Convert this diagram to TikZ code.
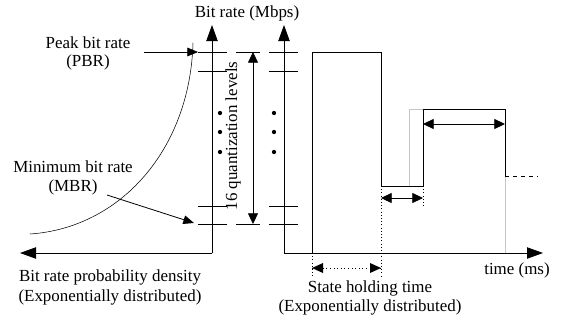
\documentclass[tikz,border=0pt]{standalone}
\usepackage{fontspec}
\setmainfont{Liberation Serif}
\usetikzlibrary{arrows.meta}

\begin{document}
\begin{tikzpicture}[x=0.75pt,y=-0.75pt,font=\fontsize{12.7}{15}\selectfont]
    \tikzstyle{rateaxis}=[line width=0.7pt,-{Triangle[length=12pt,width=8.5pt]}]
    \tikzstyle{pointer}=[line width=0.6pt,-{Triangle[length=8pt,width=6.5pt]}]
    \tikzstyle{holdspan}=[line width=0.6pt,{Triangle[length=8pt,width=7.5pt]}-{Triangle[length=8pt,width=7.5pt]}]
    \tikzstyle{rateline}=[line width=0.7pt]
    \tikzstyle{qdot}=[circle,fill=black,minimum size=3.2pt,inner sep=0]
    \useasboundingbox (0,0) rectangle (565,322);
    \coordinate (lo) at (212,253);
    \coordinate (ltop) at (212,25);
    \coordinate (lend) at (20,253);
    \coordinate (ro) at (284,253);
    \coordinate (rtop) at (284,25);
    \coordinate (rend) at (543,253);
    \draw[rateaxis] (lo) -- (ltop);
    \draw[rateaxis] (lo) -- (lend);
    \draw[rateaxis] (ro) -- (rtop);
    \draw[rateaxis] (ro) -- (rend);
    \node (ylabel) at (247,13) {Bit rate (Mbps)};
    \foreach \y in {52,71,206,224} {
        \draw (198,\y) -- (227,\y);
        \draw (269,\y) -- (298,\y);
    }
    \draw (236,52) -- (260,52);
    \draw (236,224) -- (260,224);
    \foreach \y in {113,132,152} {
        \node[qdot] at (220,\y) {};
        \node[qdot] at (274,\y) {};
    }
    \coordinate (qtop) at (253,52);
    \coordinate (qbot) at (253,224);
    \draw[holdspan] (qtop) -- (qbot);
    \node[rotate=90] (qlabel) at (233,136) {16 quantization levels};
    \coordinate (dstart) at (30,234);
    \coordinate (dend) at (193,43);
    \draw (dstart) .. controls (120,228) and (190,150) .. (dend);
    \node (pbr) at (88,43) {Peak bit rate};
    \node (pbrs) at (88,62) {(PBR)};
    \coordinate (pbrfrom) at (144,52);
    \coordinate (pbrto) at (198,52);
    \draw[pointer] (pbrfrom) -- (pbrto);
    \node (mbr) at (73,167) {Minimum bit rate};
    \node (mbrs) at (73,187) {(MBR)};
    \coordinate (mbrfrom) at (107,195);
    \coordinate (mbrto) at (194,223);
    \draw[pointer] (mbrfrom) -- (mbrto);
    \node (dens) at (110,277) {Bit rate probability density};
    \node (densd) at (110,297) {(Exponentially distributed)};
    \coordinate (s0) at (312,253);
    \coordinate (s1) at (312,52);
    \coordinate (s2) at (381,52);
    \coordinate (s3) at (381,186);
    \coordinate (s4) at (423,186);
    \coordinate (s5) at (423,109);
    \coordinate (s6) at (505,109);
    \coordinate (s7) at (505,176);
    \coordinate (s8) at (538,176);
    \coordinate (g1) at (409,186);
    \coordinate (g2) at (409,109);
    \draw[gray!45,rateline] (g1) -- (g2) -- (s5);
    \draw[gray!45,rateline] (s7) -- (s6 |- ro);
    \draw[rateline] (s0) -- (s1) -- (s2) -- (s3) -- (s4) -- (s5) -- (s6) -- (s7);
    \draw[rateline,dashed] (s7) -- (s8);
    \draw[dotted] (s0) -- (312,277);
    \draw[dotted] (s3) -- (381,277);
    \draw[dotted] (s4) -- (423,206);
    \draw[holdspan] (381,198) -- (423,198);
    \draw[holdspan] (423,124) -- (505,124);
    \coordinate (ha) at (312,268);
    \coordinate (hb) at (381,268);
    \draw[dotted,line width=0.7pt] (ha) -- (hb);
    \fill (ha) -- ++(11,-5) -- ++(0,10) -- cycle;
    \fill (hb) -- ++(-11,-5) -- ++(0,10) -- cycle;
    \node (tlabel) at (517,270) {time (ms)};
    \node (hold) at (370,288) {State holding time};
    \node (holdd) at (370,307) {(Exponentially distributed)};
\end{tikzpicture}
\end{document}
